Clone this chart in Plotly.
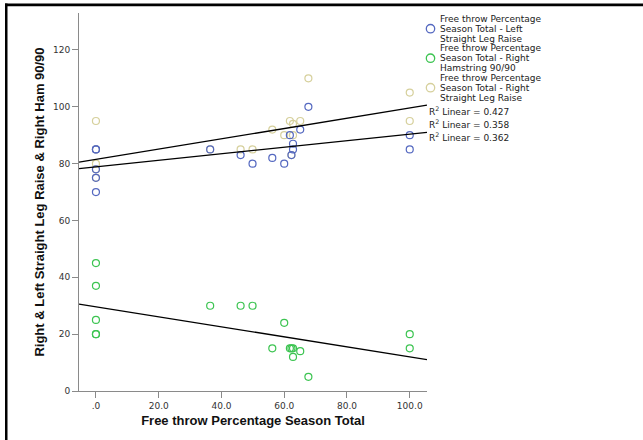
import numpy as np
import plotly.graph_objects as go

# ---- data ----
ft_pct = [0, 0, 0, 0, 0, 36.4, 46.1, 49.9, 56.2, 60.0, 61.8, 62.8, 62.8, 62.3, 65.1, 67.7, 100, 100]
left_slr = [85, 85, 78, 75, 70, 85, 83, 80, 82, 80, 90, 87, 85, 83, 92, 100, 90, 85]
right_ham = [45, 37, 25, 20, 20, 30, 30, 30, 15, 24, 15, 15, 12, 15, 14, 5, 20, 15]
right_slr = [95, 80, 85, 78, 75, 85, 85, 85, 92, 90, 95, 94, 90, 83, 95, 110, 105, 95]

series_names = [
    ["Free throw Percentage", "Season Total - Left", "Straight Leg Raise"],
    ["Free throw Percentage", "Season Total - Right", "Hamstring 90/90"],
    ["Free throw Percentage", "Season Total - Right", "Straight Leg Raise"],
]
series_colors = ["#5468c0", "#3cc451", "#d6d09c"]
r2_labels = ["0.427", "0.358", "0.362"]

x_ticks = [0, 20, 40, 60, 80, 100]
x_tick_text = [".0", "20.0", "40.0", "60.0", "80.0", "100.0"]
y_ticks = [0, 20, 40, 60, 80, 100, 120]

X_RANGE = [-5.4, 105.5]
Y_RANGE = [0, 133]

W, H = 643, 440
ML, MR, MT, MB = 79, 216, 13, 49
PW, PH = W - ML - MR, H - MT - MB

FONT = "DejaVu Sans, Verdana, sans-serif"
BOLD_FONT = "Liberation Sans, Arial, sans-serif"


def px_to_paper(px, py):
    return (px - ML) / PW, (H - MB - py) / PH


fig = go.Figure()

all_y = [right_slr, right_ham, left_slr]
all_c = [series_colors[2], series_colors[1], series_colors[0]]
for ys, col in zip(all_y, all_c):
    fig.add_trace(go.Scatter(
        x=ft_pct, y=ys, mode="markers", showlegend=False,
        marker=dict(symbol="circle-open", size=7, color=col, line=dict(width=1.2, color=col)),
    ))

# linear fit lines
xf = np.array(X_RANGE)
for ys in [left_slr, right_ham, right_slr]:
    b, a = np.polyfit(np.array(ft_pct, float), np.array(ys, float), 1)
    fig.add_trace(go.Scatter(
        x=xf, y=a + b * xf, mode="lines", showlegend=False,
        line=dict(color="black", width=1.3), cliponaxis=False,
    ))

annotations = []
shapes = []
legend_font = dict(family=FONT, size=9, color="#222")

# manual legend (SPSS style)
LINE_STEP = 10
entry_tops = [18.7, 48.2, 77.7]
for names, top, col in zip(series_names, entry_tops, series_colors):
    for i, line in enumerate(names):
        xp, yp = px_to_paper(438, top + i * LINE_STEP)
        annotations.append(dict(x=xp, y=yp, xref="paper", yref="paper", text=line,
                                showarrow=False, xanchor="left", yanchor="middle",
                                font=legend_font))
    cx, cy = px_to_paper(430.5, top + LINE_STEP)
    r = 4.2
    shapes.append(dict(type="circle", xref="paper", yref="paper",
                       x0=cx - r / PW, x1=cx + r / PW, y0=cy - r / PH, y1=cy + r / PH,
                       line=dict(color=col, width=1.3)))

for lab, py in zip(r2_labels, [111, 124, 137]):
    xp, yp = px_to_paper(426.5, py)
    annotations.append(dict(x=xp, y=yp, xref="paper", yref="paper",
                            text="R<sup>2</sup> Linear = " + lab,
                            showarrow=False, xanchor="left", yanchor="middle",
                            font=legend_font))

# outer frame (top and left borders) as thin filled rectangles
bx0, by0 = px_to_paper(5, 6.2)
bx1, by1 = px_to_paper(7.5, 3.6)
rx, _ = px_to_paper(W, 0)
_, yb = px_to_paper(0, H)
shapes.append(dict(type="rect", xref="paper", yref="paper", x0=bx0, x1=rx,
                   y0=by0, y1=by1, fillcolor="black", line=dict(width=0)))
shapes.append(dict(type="rect", xref="paper", yref="paper", x0=bx0, x1=bx1,
                   y0=yb, y1=by1, fillcolor="black", line=dict(width=0)))

axis_common = dict(
    showline=True, linecolor="#8a8a8a", linewidth=1,
    ticks="outside", ticklen=6, tickcolor="#8a8a8a", tickwidth=1,
    showgrid=False, zeroline=False,
    tickfont=dict(family=FONT, size=9, color="#333"),
)

fig.update_layout(
    width=W, height=H,
    margin=dict(l=ML, r=MR, t=MT, b=MB),
    paper_bgcolor="white", plot_bgcolor="white",
    xaxis=dict(range=X_RANGE, tickvals=x_ticks, ticktext=x_tick_text,
               title=dict(text="<b>Free throw Percentage Season Total</b>", standoff=6,
                          font=dict(family=BOLD_FONT, size=13, color="#111")),
               **axis_common),
    yaxis=dict(range=Y_RANGE, tickvals=y_ticks,
               title=dict(text="<b>Right &amp; Left Straight Leg Raise &amp; Right Ham 90/90</b>", standoff=5,
                          font=dict(family=BOLD_FONT, size=13, color="#111")),
               **axis_common),
    annotations=annotations,
    shapes=shapes,
)

fig.write_html("out.html")
